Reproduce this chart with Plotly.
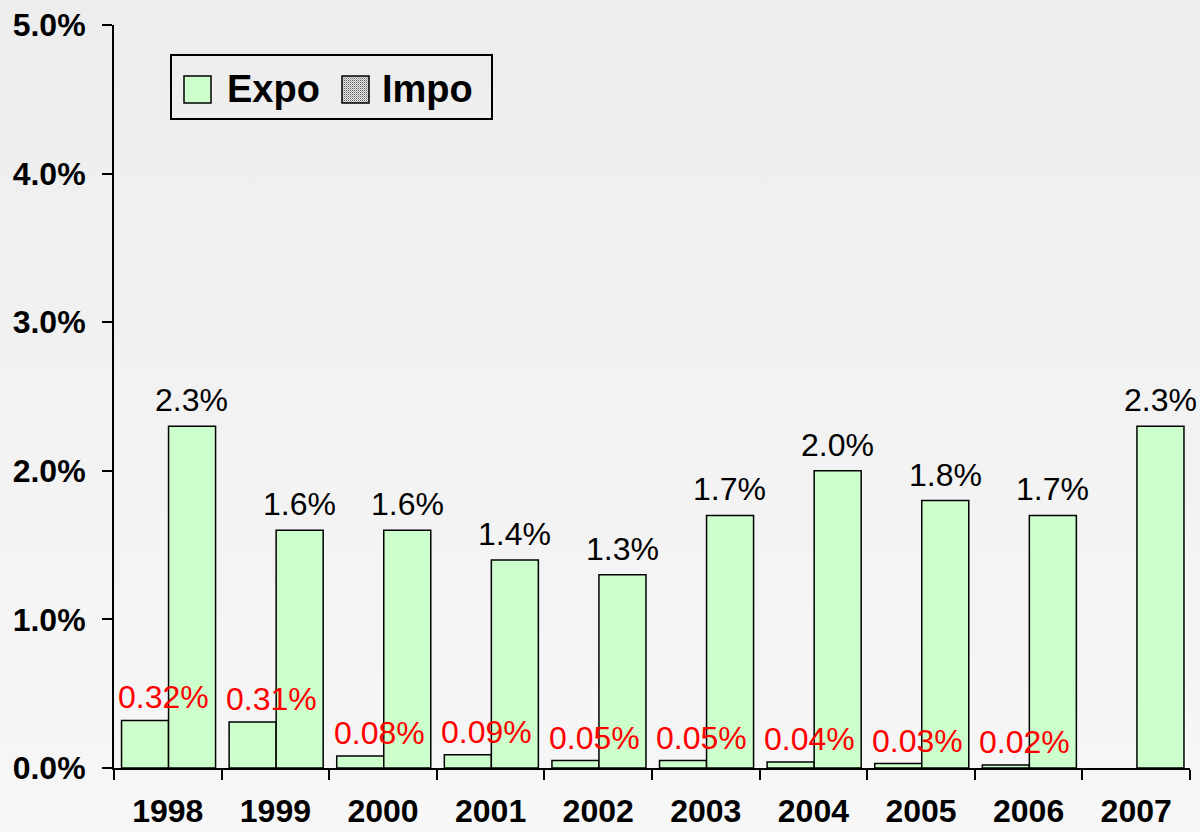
import base64
import plotly.graph_objects as go

# ---- data ----
years = ["1998", "1999", "2000", "2001", "2002", "2003", "2004", "2005", "2006", "2007"]
expo = [2.3, 1.6, 1.6, 1.4, 1.3, 1.7, 2.0, 1.8, 1.7, 2.3]
impo = [0.32, 0.31, 0.08, 0.09, 0.05, 0.05, 0.04, 0.03, 0.02, None]
y_ticks = [0, 1, 2, 3, 4, 5]
y_tick_labels = [f"{t:.1f}%" for t in y_ticks]

FONT = "Liberation Sans, Arial, sans-serif"
W, H = 1200, 832
ML, MR, MT, MB = 114, 10, 25, 64
PW, PH = W - ML - MR, H - MT - MB


def px(x):
    return (x - ML) / PW


def py(y):
    return (H - MB - y) / PH


def svg_uri(svg):
    return "data:image/svg+xml;base64," + base64.b64encode(svg.encode()).decode()


BAR_W = 0.437
fig = go.Figure()
fig.add_trace(go.Bar(
    x=years, y=impo, name="Impo", width=BAR_W, offset=-0.43,
    marker=dict(color="#ccffcc", line=dict(color="black", width=1.5)),
    showlegend=False,
))
fig.add_trace(go.Bar(
    x=years, y=expo, name="Expo", width=BAR_W, offset=0.007,
    marker=dict(color="#ccffcc", line=dict(color="black", width=1.5)),
    showlegend=False,
))

annotations = []
for i, v in enumerate(expo):
    annotations.append(dict(
        x=i, y=v, xref="x", yref="y", text=f"{v:.1f}%", showarrow=False,
        yanchor="bottom", xanchor="center", xshift=24, yshift=6,
        font=dict(family=FONT, size=32, color="black"),
    ))
for i, v in enumerate(impo):
    if v is None:
        continue
    annotations.append(dict(
        x=i, y=v, xref="x", yref="y", text=f"{v:.2f}%", showarrow=False,
        yanchor="bottom", xanchor="center", xshift=-4, yshift=3,
        font=dict(family=FONT, size=32, color="red"),
    ))

# legend (drawn manually to match the large swatches)
annotations.append(dict(
    x=px(225), y=py(89), xref="paper", yref="paper", text="<b>Expo</b>",
    showarrow=False, xanchor="left", yanchor="middle",
    font=dict(family=FONT, size=38, color="black"),
))
annotations.append(dict(
    x=px(380), y=py(89), xref="paper", yref="paper", text="<b>Impo</b>",
    showarrow=False, xanchor="left", yanchor="middle",
    font=dict(family=FONT, size=38, color="black"),
))

shapes = [
    dict(type="rect", xref="paper", yref="paper", x0=px(171), x1=px(492),
         y0=py(119), y1=py(55), line=dict(color="black", width=2),
         fillcolor="rgba(0,0,0,0)"),
    dict(type="rect", xref="paper", yref="paper", x0=px(184), x1=px(211),
         y0=py(103), y1=py(76), line=dict(color="black", width=1.5),
         fillcolor="#ccffcc"),
    dict(type="rect", xref="paper", yref="paper", x0=px(342), x1=px(369),
         y0=py(103), y1=py(76), line=dict(color="black", width=1.5),
         fillcolor="rgba(0,0,0,0)", layer="above"),
]

grad_svg = (
    "<svg xmlns='http://www.w3.org/2000/svg' width='100' height='100' "
    "preserveAspectRatio='none' viewBox='0 0 100 100'><defs>"
    "<linearGradient id='g' x1='0' y1='0' x2='0' y2='1'>"
    "<stop offset='0' stop-color='#ededed'/><stop offset='1' stop-color='#f7f7f7'/>"
    "</linearGradient></defs><rect width='100' height='100' fill='url(#g)'/></svg>"
)
dot_svg = (
    "<svg xmlns='http://www.w3.org/2000/svg' width='27' height='27' viewBox='0 0 27 27' "
    "preserveAspectRatio='none'><defs><pattern id='p' width='2' height='2' "
    "patternUnits='userSpaceOnUse'><rect width='2' height='2' fill='#f0f0f0'/>"
    "<rect width='1' height='1' fill='#5a5a5a'/><rect x='1' y='1' width='1' height='1' fill='#a0a0a0'/>"
    "</pattern></defs><rect width='27' height='27' fill='url(#p)'/></svg>"
)

images = [
    dict(source=svg_uri(grad_svg), xref="paper", yref="paper",
         x=px(0), y=py(0), sizex=W / PW, sizey=H / PH,
         xanchor="left", yanchor="top", sizing="stretch", layer="below"),
    dict(source=svg_uri(dot_svg), xref="paper", yref="paper",
         x=px(342), y=py(76), sizex=27 / PW, sizey=27 / PH,
         xanchor="left", yanchor="top", sizing="stretch", layer="above"),
]

fig.update_layout(
    width=W, height=H,
    margin=dict(l=ML, r=MR, t=MT, b=MB, pad=0, autoexpand=False),
    barmode="overlay",
    paper_bgcolor="#f0f0f0",
    plot_bgcolor="rgba(0,0,0,0)",
    showlegend=False,
    annotations=annotations,
    shapes=shapes,
    images=images,
    font=dict(family=FONT, color="black"),
)
fig.update_xaxes(
    type="category", range=[-0.5, 9.5],
    showline=True, linecolor="black", linewidth=2,
    ticks="outside", tickson="boundaries", ticklen=10, tickwidth=2, tickcolor="black",
    tickfont=dict(family=FONT, size=32, color="black", weight="bold"),
    ticklabelstandoff=14, automargin=False,
    showgrid=False, zeroline=False,
)
fig.update_yaxes(
    range=[0, 5], tickmode="array", tickvals=y_ticks, ticktext=y_tick_labels,
    showline=True, linecolor="black", linewidth=2,
    ticks="outside", ticklen=10, tickwidth=2, tickcolor="black",
    tickfont=dict(family=FONT, size=32, color="black", weight="bold"),
    ticklabelstandoff=10, automargin=False,
    showgrid=False, zeroline=False,
)

fig.write_html(
    "out.html",
    config={"displayModeBar": False},
    post_script="document.body.style.margin='0';document.body.style.overflow='hidden';",
)
